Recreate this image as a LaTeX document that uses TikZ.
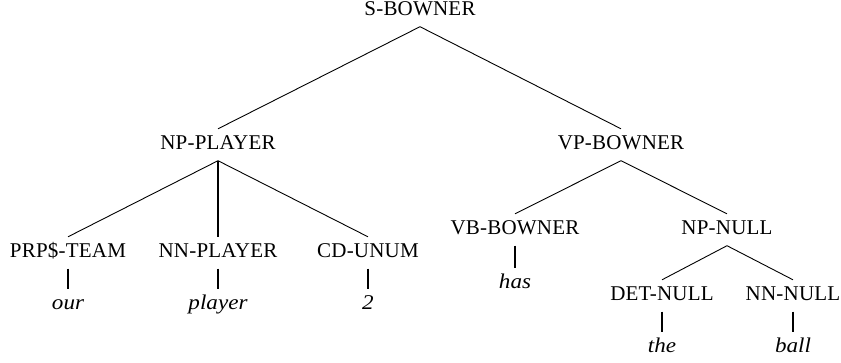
\documentclass[tikz,border=0pt]{standalone}
\usepackage{fontspec}
\setmainfont{Liberation Serif}
\newfontfamily\labfont{Liberation Serif}[LetterSpace=1]
\newfontfamily\wordfont{Liberation Serif}[FakeStretch=1.1]
\begin{document}
\begin{tikzpicture}[x=1pt,y=-1pt,
  lab/.style={anchor=base,inner xsep=0pt,inner ysep=8pt,text height=12pt,text depth=3.5pt,
    font=\labfont\fontsize{21}{25}\selectfont},
  word/.style={lab,font=\wordfont\fontsize{21}{25}\selectfont\itshape},
  edge/.style={line width=0.9pt,line cap=butt},
  stem/.style={line width=1.6pt}]
\useasboundingbox (0,0) rectangle (841,362);
\node[lab] (s) at (420,15) {S-BOWNER};
\node[lab] (np) at (218,149) {NP-PLAYER};
\node[lab] (vp) at (621,149) {VP-BOWNER};
\node[lab] (prp) at (68,257) {PRP\$-TEAM};
\node[lab] (nn) at (218,257) {NN-PLAYER};
\node[lab] (cd) at (368,257) {CD-UNUM};
\node[word] (our) at (68,309) {our};
\node[word] (player) at (218,309) {player};
\node[word] (two) at (368,309) {2};
\node[lab] (vb) at (515,234) {VB-BOWNER};
\node[lab] (npn) at (727,234) {NP-NULL};
\node[word] (has) at (515,288) {has};
\node[lab] (det) at (662,300) {DET-NULL};
\node[lab] (nnn) at (793,300) {NN-NULL};
\node[word] (the) at (662,352) {the};
\node[word] (ball) at (793,352) {ball};
\draw[edge] (s.south) -- (np.north);
\draw[edge] (s.south) -- (vp.north);
\draw[edge] (np.south) -- (prp.north);
\draw[stem] (np.south) -- (nn.north);
\draw[edge] (np.south) -- (cd.north);
\draw[stem] (prp.south) -- (our.north);
\draw[stem] (nn.south) -- (player.north);
\draw[stem] (cd.south) -- (two.north);
\draw[edge] (vp.south) -- (vb.north);
\draw[edge] (vp.south) -- (npn.north);
\draw[stem] (vb.south) -- (has.north);
\draw[edge] (npn.south) -- (det.north);
\draw[edge] (npn.south) -- (nnn.north);
\draw[stem] (det.south) -- (the.north);
\draw[stem] (nnn.south) -- (ball.north);
\end{tikzpicture}
\end{document}
